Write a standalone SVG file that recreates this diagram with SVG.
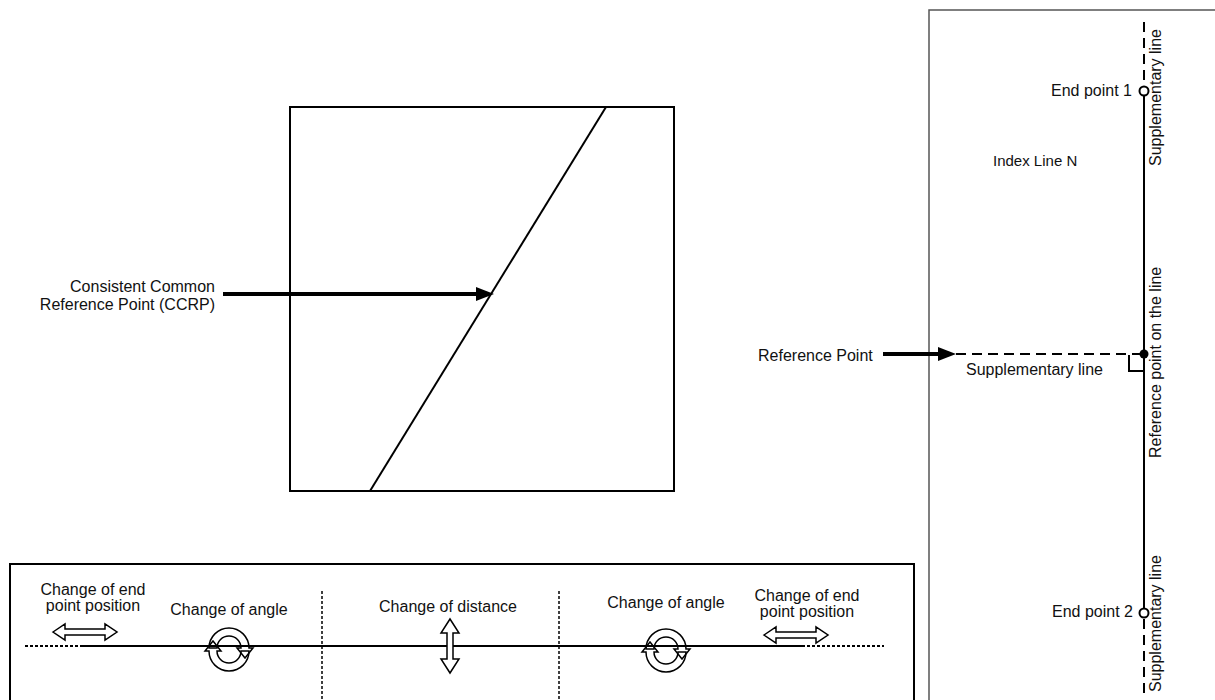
<svg xmlns="http://www.w3.org/2000/svg" xmlns:xlink="http://www.w3.org/1999/xlink" width="1215" height="700" viewBox="0 0 1215 700">
<style>
text{font-family:"Liberation Sans",Arial,sans-serif;font-size:16px;fill:#111}
.box{fill:none;stroke:#000;stroke-width:2}
.gbox{fill:none;stroke:#555;stroke-width:1.5}
.solid{stroke:#000;stroke-width:2;fill:none}
.dash{stroke:#000;stroke-width:2;stroke-dasharray:10 6;fill:none}
.dot{stroke:#000;stroke-width:2;stroke-dasharray:3 2;fill:none}
.vdot{stroke:#000;stroke-width:1.5;stroke-dasharray:3 2;fill:none}
.thick{stroke:#000;stroke-width:4;fill:none}
.icon{fill:#fff;stroke:#000;stroke-width:1.5;stroke-linejoin:miter}
.rot{fill:none;stroke:#000;stroke-width:1.5}
</style>
<defs>
<path id="harrow" class="icon" d="M -32 0 L -20 -8 L -20 -3 L 20 -3 L 20 -8 L 32 0 L 20 8 L 20 3 L -20 3 L -20 8 Z"/>
<g id="rotate">
<path class="rot" d="M -12 0 A 12 12 0 0 1 12 0 L 8 0 L 16 10 L 24 0 L 20 0 A 20 20 0 0 0 -20 0 Z"/>
<path class="rot" d="M 12 3 A 12 12 0 0 1 -12 3 L -8 3 L -16 -7 L -24 3 L -20 3 A 20 20 0 0 0 20 3 Z"/>
</g>
</defs>

<g id="ccrp-box">
<rect class="box" x="290" y="107" width="384" height="384"/>
<line class="solid" x1="606" y1="107" x2="370" y2="491"/>
</g>

<g id="ccrp-label">
<text x="215" y="292" text-anchor="end">Consistent Common</text>
<text x="215" y="310" text-anchor="end">Reference Point (CCRP)</text>
</g>

<g id="index-panel">
<rect class="gbox" x="929" y="10" width="300" height="700"/>
<text x="993" y="166" style="font-size:15px">Index Line N</text>
</g>

<g id="index-line">
<line class="dash" x1="1144" y1="22" x2="1144" y2="86"/>
<line class="solid" x1="1144" y1="96" x2="1144" y2="608"/>
<line class="dash" x1="1144" y1="619" x2="1144" y2="694"/>
<circle cx="1144" cy="91" r="4.5" fill="#fff" stroke="#000" stroke-width="2"/>
<circle cx="1144" cy="613" r="4.5" fill="#fff" stroke="#000" stroke-width="2"/>
<circle cx="1144" cy="354" r="4.5" fill="#000"/>
<text x="1132" y="96" text-anchor="end">End point 1</text>
<text x="1133" y="617" text-anchor="end">End point 2</text>
<text transform="translate(1161,166) rotate(-90)">Supplementary line</text>
<text transform="translate(1161,458) rotate(-90)">Reference point on the line</text>
<text transform="translate(1161,692) rotate(-90)">Supplementary line</text>
</g>

<g id="reference-point">
<text x="758" y="361">Reference Point</text>
<line class="dash" x1="956" y1="354" x2="1140" y2="354"/>
<path class="solid" d="M 1129 355 L 1129 371 L 1144 371"/>
<text x="966" y="375">Supplementary line</text>
</g>

<g id="change-panel">
<rect class="box" x="10" y="564" width="904" height="150"/>
<line class="vdot" x1="322" y1="591" x2="322" y2="700"/>
<line class="vdot" x1="559" y1="591" x2="559" y2="700"/>
<line class="dot" x1="25" y1="646" x2="80" y2="646"/>
<line class="solid" x1="80" y1="646" x2="802" y2="646"/>
<line class="dot" x1="802" y1="646" x2="884" y2="646"/>
<text x="93" y="595" text-anchor="middle">Change of end</text>
<text x="93" y="611" text-anchor="middle">point position</text>
<text x="229" y="615" text-anchor="middle">Change of angle</text>
<text x="448" y="612" text-anchor="middle">Change of distance</text>
<text x="666" y="608" text-anchor="middle">Change of angle</text>
<text x="807" y="601" text-anchor="middle">Change of end</text>
<text x="807" y="617" text-anchor="middle">point position</text>
<use xlink:href="#harrow" transform="translate(85,632)"/>
<use xlink:href="#harrow" transform="translate(796,635)"/>
<path class="icon" transform="translate(450,646)" d="M 0 -27 L 9 -13 L 3 -13 L 3 13 L 9 13 L 0 27 L -9 13 L -3 13 L -3 -13 L -9 -13 Z"/>
<use xlink:href="#rotate" transform="translate(229,648)"/>
<use xlink:href="#rotate" transform="translate(666,649)"/>
</g>

<g id="connectors">
<line class="thick" x1="223" y1="294" x2="478" y2="294"/>
<polygon points="476,287 494,294 476,301" fill="#000"/>
<line class="thick" x1="883" y1="354" x2="940" y2="354"/>
<polygon points="938,347 956,354 938,361" fill="#000"/>
</g>
</svg>
